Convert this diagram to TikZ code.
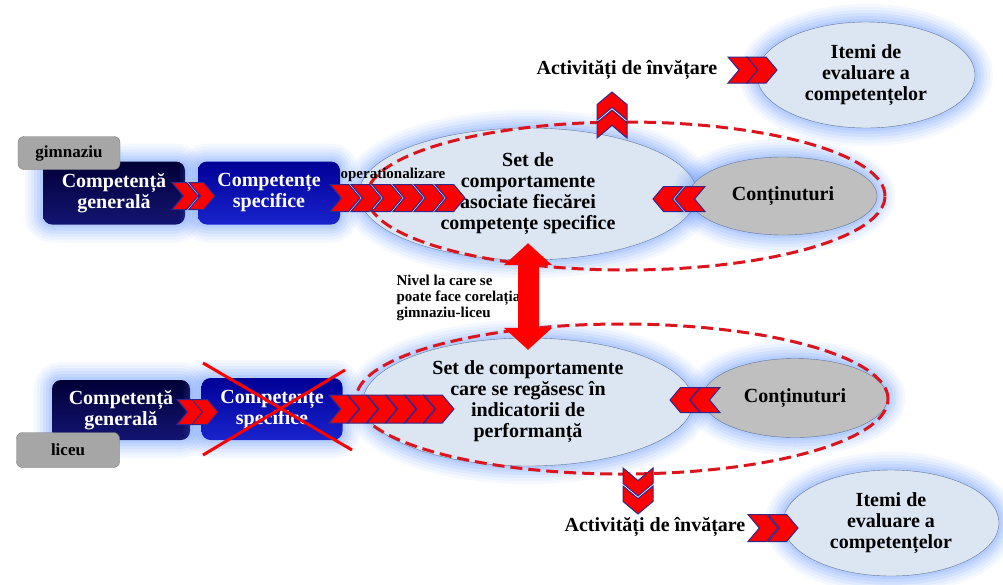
\documentclass[tikz,border=0pt]{standalone}
\usepackage{fontspec}
\setmainfont{Liberation Serif}
\usetikzlibrary{shapes.geometric,shapes.symbols,arrows.meta,positioning,calc}
\definecolor{glowblue}{RGB}{100,150,255}
\definecolor{genTop}{RGB}{0,0,55}
\definecolor{genBot}{RGB}{20,20,115}
\definecolor{specTop}{RGB}{0,0,150}
\definecolor{specBot}{RGB}{25,35,205}
\definecolor{ellblue}{RGB}{220,230,242}
\definecolor{ellline}{RGB}{95,115,150}
\definecolor{contgray}{RGB}{191,191,191}
\definecolor{lvlgray}{RGB}{166,166,166}
\definecolor{lvlline}{RGB}{120,120,120}
\definecolor{chevred}{RGB}{255,0,0}
\definecolor{chevline}{RGB}{50,40,140}
\definecolor{dashred}{RGB}{220,20,30}

\begin{document}
\begin{tikzpicture}[x=1pt, y=-1pt,
  glow/.style={preaction={draw=glowblue, line width=36, opacity=0.06},
               preaction={draw=glowblue, line width=30, opacity=0.07},
               preaction={draw=glowblue, line width=24, opacity=0.08},
               preaction={draw=glowblue, line width=18, opacity=0.1},
               preaction={draw=glowblue, line width=12, opacity=0.12},
               preaction={draw=glowblue, line width=6, opacity=0.15}},
  compbox/.style={glow, rectangle, rounded corners=9, text=white, align=center, %
                  minimum width=142, minimum height=63, inner sep=2, %
                  font=\bfseries\fontsize{20}{21}\selectfont},
  levelbox/.style={rectangle, draw=lvlline, fill=lvlgray, rounded corners=6, %
                   minimum width=102, minimum height=33, %
                   font=\bfseries\fontsize{17}{18}\selectfont},
  setell/.style={glow, ellipse, draw=ellline, fill=ellblue, align=center, inner sep=0, %
                 font=\bfseries\fontsize{20}{21}\selectfont},
  contell/.style={setell, fill=contgray},
  groupell/.style={ellipse, draw=dashred, line width=3, dash pattern=on 12pt off 6pt, %
                   inner sep=0},
  chev/.style={signal, signal from=west, signal to=east, signal pointer angle=100, %
               fill=chevred, draw=chevline, line width=1, inner sep=0, %
               minimum width=30, minimum height=27},
  chevleft/.style={chev, signal from=east, signal to=west},
  chevup/.style={chev, minimum width=28, minimum height=30, rotate=90},
  chevdown/.style={chev, minimum width=28, minimum height=30, rotate=-90},
  label/.style={font=\bfseries\fontsize{20}{21}\selectfont},
  corel/.style={draw=chevred, line width=21, %
                {Triangle[length=22pt,width=47pt]}-{Triangle[length=22pt,width=47pt]}, %
                shorten <=-17pt, shorten >=-12pt},
  cross/.style={draw=chevred, line width=3}]
  \fill[white] (0,0) rectangle (1003,584);
  \useasboundingbox (0,0) rectangle (1003,584);
%
% ellipses
  \node[setell, minimum width=338, minimum height=132] (SetA) at (528,194) %
       {Set de\\comportamente\\asociate fiecărei\\competențe specifice};
  \node[setell, minimum width=330, minimum height=128] (SetB) at (528,402) %
       {Set de comportamente\\care se regăsesc în\\indicatorii de\\performanță};
  \node[contell, minimum width=188, minimum height=78] (ContA) at (783,196) {Conținuturi};
  \node[contell, minimum width=185, minimum height=79] (ContB) at (795,398) {Conținuturi};
  \node[setell, minimum width=218, minimum height=106] (ItemiA) at (866,75) %
       {Itemi de\\evaluare a\\competențelor};
  \node[setell, minimum width=216, minimum height=106] (ItemiB) at (891,523) %
       {Itemi de\\evaluare a\\competențelor};
%
% competence boxes
  \node[compbox, top color=genTop, bottom color=genBot] (CompGenA) at (114,193) %
       {Competență\\generală};
  \node[compbox, top color=specTop, bottom color=specBot] (CompSpecA) at (269,193) %
       {Competențe\\specifice};
  \node[levelbox] (Gimnaziu) at (69,153) {gimnaziu};
  \node[compbox, top color=genTop, bottom color=genBot, minimum width=138, %
        minimum height=60] (CompGenB) at (121,410) {Competență\\generală};
  \node[compbox, top color=specTop, bottom color=specBot, minimum width=141, %
        minimum height=62] (CompSpecB) at (272,409) {Competențe\\specifice};
  \node[levelbox, minimum width=103, minimum height=35] (Liceu) at (68,450) {liceu};
%
% dashed groups
  \node[groupell, minimum width=518, minimum height=148] (GroupA) at (626,196) {};
  \node[groupell, minimum width=532, minimum height=150] (GroupB) at (622,399) {};
%
% chevrons, upper row
  \node[chev, minimum width=26] (GenSpecA1) at (185,196) {};
  \node[chev, minimum width=26, right of=GenSpecA1, node distance=17] (GenSpecA2) {};
  \node[chev] (OpA1) at (345,198) {};
  \node[chev, right of=OpA1, node distance=21] (OpA2) {};
  \node[chev, right of=OpA2, node distance=21] (OpA3) {};
  \node[chev, right of=OpA3, node distance=21] (OpA4) {};
  \node[chev, right of=OpA4, node distance=21] (OpA5) {};
  \node[chev, right of=OpA5, node distance=21] (OpA6) {};
  \node[chevleft, minimum height=25] (ContChevA2) at (690,199) {};
  \node[chevleft, minimum height=25, left of=ContChevA2, node distance=22] (ContChevA1) {};
  \node[chevup] (UpA1) at (612,124) {};
  \node[chevup] (UpA2) at (612,106) {};
  \node[chev, minimum height=26] (ActChevA1) at (743,70) {};
  \node[chev, minimum height=26, right of=ActChevA1, node distance=19] (ActChevA2) {};
%
% chevrons, lower row
  \node[chev, minimum width=26, minimum height=25] (GenSpecB1) at (190,412) {};
  \node[chev, minimum width=26, minimum height=25, right of=GenSpecB1, %
        node distance=15] (GenSpecB2) {};
  \node[chev, minimum height=28] (OpB1) at (344,409) {};
  \node[chev, minimum height=28, right of=OpB1, node distance=19] (OpB2) {};
  \node[chev, minimum height=28, right of=OpB2, node distance=19] (OpB3) {};
  \node[chev, minimum height=28, right of=OpB3, node distance=19] (OpB4) {};
  \node[chev, minimum height=28, right of=OpB4, node distance=19] (OpB5) {};
  \node[chev, minimum height=28, right of=OpB5, node distance=19] (OpB6) {};
  \node[chevleft, minimum height=25] (ContChevB2) at (705,400) {};
  \node[chevleft, minimum height=25, left of=ContChevB2, node distance=20] (ContChevB1) {};
  \node[chevdown] (DownB1) at (638,482) {};
  \node[chevdown] (DownB2) at (638,500) {};
  \node[chev, minimum height=27] (ActChevB1) at (763,528) {};
  \node[chev, minimum height=27, right of=ActChevB1, node distance=20] (ActChevB2) {};
%
% labels
  \node[font=\bfseries\fontsize{15}{16}\selectfont] (OperLabel) at (393,175) %
       {operationalizare};
  \node[label] (ActivA) at (627,70) {Activități de învățare};
  \node[label] (ActivB) at (655,527) {Activități de învățare};
  \node[font=\bfseries\fontsize{15}{16}\selectfont, align=left, anchor=west] %
       (Nivel) at (393,298) {Nivel la care se\\poate face corelația\\gimnaziu-liceu};
%
  \draw[corel] (SetA) -- (SetB);
  \draw[cross] ($(CompSpecB.center)+(-69,-46)$) -- ($(CompSpecB.center)+(80,41)$);
  \draw[cross] ($(CompSpecB.center)+(-69,46)$) -- ($(CompSpecB.center)+(73,-39)$);
\end{tikzpicture}
\end{document}
